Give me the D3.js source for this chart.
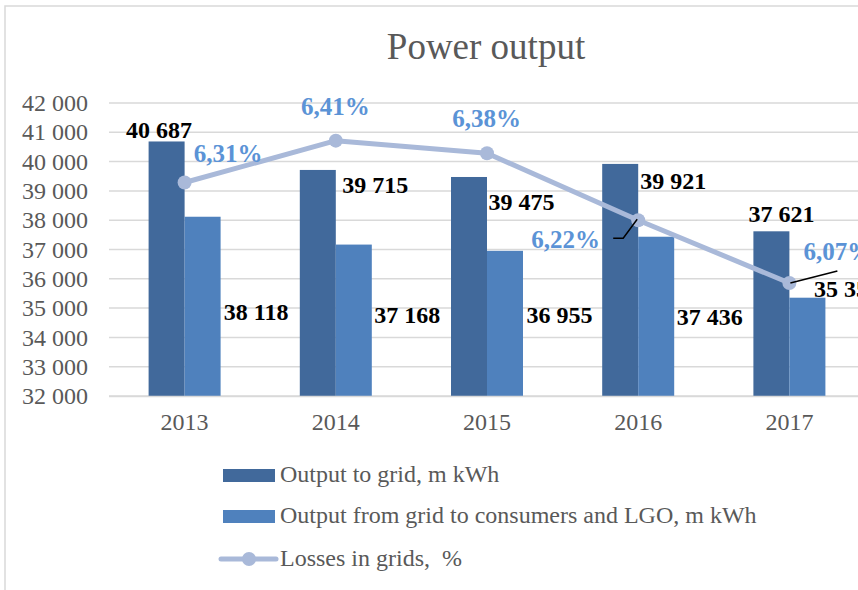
<!DOCTYPE html>
<html lang="en">
<head>
  <meta charset="UTF-8">
  <title>Power output</title>
  <style>
    body { margin: 0; background: white; }
    text { font-family: 'Liberation Serif', 'Times New Roman', serif; }
  </style>
</head>
<body>
  <svg id="svg" width="858" height="590"></svg>
  <script src="https://d3js.org/d3.v7.min.js"></script>
  <script>
    const years = ['2013', '2014', '2015', '2016', '2017']
    const outputToGrid = [40687, 39715, 39475, 39921, 37621]
    const outputFromGrid = [38118, 37168, 36955, 37436, 35355]
    const losses = [6.31, 6.41, 6.38, 6.22, 6.07]
    const yTicks = [32000, 33000, 34000, 35000, 36000, 37000, 38000, 39000, 40000, 41000, 42000]
    const legendNames = ['Output to grid, m kWh', 'Output from grid to consumers and LGO, m kWh', 'Losses in grids,  %']

    // label nudges, as moved by hand in the original
    const darkLabelOff = [[-7.5, -3.5], [57.5, 23], [52.5, 33], [53, 25], [10, -9]]
    const lightLabelOff = [[53.5, 103], [53.5, 78], [54.5, 72], [53.5, 88], [39.5, -1]]
    const pctLabelOff = [[43.5, -20.5], [-0.5, -25.5], [-0.5, -26], [-72.5, 28], [48.5, -22.5]]

    const darkColor = '#41699b'
    const lightColor = '#4f81bd'
    const lineColor = '#a9b9d9'
    const pctColor = '#5b93d6'
    const fmt = v => d3.format(',')(v).replace(/,/g, ' ')
    const fmtPct = v => d3.format('.2f')(v).replace('.', ',') + '%'

    const svg = d3.select('#svg')
    svg.append('rect').attr('width', 858).attr('height', 590).attr('fill', 'white')
    // chart border (runs off the right and bottom)
    svg.append('rect')
      .attr('x', 5).attr('y', 6).attr('width', 1000).attr('height', 700)
      .attr('fill', 'none').attr('stroke', '#d9d9d9').attr('stroke-width', 1.5)

    const xScale = d3.scaleBand().domain(years).range([109, 865])
    const yScale = d3.scaleLinear().domain([32000, 42000]).range([396, 103])
    const y2Scale = d3.scaleLinear().domain([5.8, 6.5]).range([396, 103])
    const barW = 36
    const cx = d => xScale(d) + xScale.bandwidth() / 2

    svg.append('text')
      .attr('x', 486).attr('y', 59)
      .attr('text-anchor', 'middle')
      .attr('fill', '#595959')
      .style('font-size', '37px')
      .text('Power output')

    // gridlines
    svg.append('g')
      .selectAll('line')
      .data(yTicks)
      .enter()
      .append('line')
      .attr('x1', 109).attr('x2', 865)
      .attr('y1', d => yScale(d)).attr('y2', d => yScale(d))
      .attr('stroke', '#d9d9d9').attr('stroke-width', 1.5)

    const leftAxis = d3.axisLeft(yScale).tickValues(yTicks).tickSize(0).tickPadding(21).tickFormat(fmt)
    const gy = svg.append('g').attr('transform', 'translate(109, 0)').call(leftAxis)
    gy.select('.domain').remove()
    gy.selectAll('text').attr('fill', '#595959').style('font-size', '24px').style('font-family', 'Liberation Serif')

    const bottomAxis = d3.axisBottom(xScale).tickSize(0).tickPadding(17)
    const gx = svg.append('g').attr('transform', 'translate(0, 396)').call(bottomAxis)
    gx.select('.domain').remove()
    gx.selectAll('text').attr('fill', '#595959').style('font-size', '24px').style('font-family', 'Liberation Serif')

    // bars
    svg.append('g')
      .selectAll('rect')
      .data(years)
      .enter()
      .append('rect')
      .attr('x', d => cx(d) - barW)
      .attr('y', (d, i) => yScale(outputToGrid[i]))
      .attr('width', barW)
      .attr('height', (d, i) => yScale(32000) - yScale(outputToGrid[i]))
      .attr('fill', darkColor)
    svg.append('g')
      .selectAll('rect')
      .data(years)
      .enter()
      .append('rect')
      .attr('x', d => cx(d))
      .attr('y', (d, i) => yScale(outputFromGrid[i]))
      .attr('width', barW)
      .attr('height', (d, i) => yScale(32000) - yScale(outputFromGrid[i]))
      .attr('fill', lightColor)
    // bottom axis line
    svg.append('line')
      .attr('x1', 109).attr('x2', 865).attr('y1', 396.5).attr('y2', 396.5)
      .attr('stroke', '#d9d9d9').attr('stroke-width', 1.5)

    // losses line
    const line = d3.line().x((d, i) => cx(years[i])).y(d => y2Scale(d))
    svg.append('path')
      .datum(losses)
      .attr('d', line)
      .attr('fill', 'none')
      .attr('stroke', lineColor)
      .attr('stroke-width', 5)
      .attr('stroke-linejoin', 'round')
    svg.append('g')
      .selectAll('circle')
      .data(losses)
      .enter()
      .append('circle')
      .attr('cx', (d, i) => cx(years[i]))
      .attr('cy', d => y2Scale(d))
      .attr('r', 7)
      .attr('fill', lineColor)

    // leader lines
    const p16 = [cx('2016'), y2Scale(losses[3])]
    const p17 = [cx('2017'), y2Scale(losses[4])]
    svg.append('polyline')
      .attr('points', [[p16[0] - 25, p16[1] + 18], [p16[0] - 15, p16[1] + 18], [p16[0] - 1, p16[1] - 1]].join(' '))
      .attr('fill', 'none').attr('stroke', 'black').attr('stroke-width', 1.5)
    svg.append('line')
      .attr('x1', p17[0] + 1).attr('y1', p17[1])
      .attr('x2', p17[0] + 48).attr('y2', p17[1] - 12)
      .attr('stroke', 'black').attr('stroke-width', 1.5)

    // data labels
    svg.append('g')
      .selectAll('text')
      .data(years)
      .enter()
      .append('text')
      .attr('x', (d, i) => cx(d) - barW / 2 + darkLabelOff[i][0])
      .attr('y', (d, i) => yScale(outputToGrid[i]) + darkLabelOff[i][1])
      .attr('text-anchor', 'middle')
      .style('font-size', '24px').style('font-weight', 'bold')
      .text((d, i) => fmt(outputToGrid[i]))
    svg.append('g')
      .selectAll('text')
      .data(years)
      .enter()
      .append('text')
      .attr('x', (d, i) => cx(d) + barW / 2 + lightLabelOff[i][0])
      .attr('y', (d, i) => yScale(outputFromGrid[i]) + lightLabelOff[i][1])
      .attr('text-anchor', 'middle')
      .style('font-size', '24px').style('font-weight', 'bold')
      .text((d, i) => fmt(outputFromGrid[i]))
    svg.append('g')
      .selectAll('text')
      .data(losses)
      .enter()
      .append('text')
      .attr('x', (d, i) => cx(years[i]) + pctLabelOff[i][0])
      .attr('y', d => y2Scale(d))
      .attr('dy', (d, i) => pctLabelOff[i][1])
      .attr('text-anchor', 'middle')
      .attr('fill', pctColor)
      .style('font-size', '25px').style('font-weight', 'bold')
      .text(d => fmtPct(d))

    // legend
    const legend = svg.append('g').attr('transform', 'translate(223, 0)')
    const legendY = [482, 523, 566]
    legend.append('rect').attr('x', 0).attr('y', legendY[0] - 13).attr('width', 52).attr('height', 13).attr('fill', darkColor)
    legend.append('rect').attr('x', 0).attr('y', legendY[1] - 13).attr('width', 52).attr('height', 13).attr('fill', lightColor)
    legend.append('line').attr('x1', -2).attr('x2', 53).attr('y1', 559).attr('y2', 559)
      .attr('stroke', lineColor).attr('stroke-width', 5).attr('stroke-linecap', 'round')
    legend.append('circle').attr('cx', 26).attr('cy', 559).attr('r', 7).attr('fill', lineColor)
    legend.selectAll('text.lg')
      .data(legendNames)
      .enter()
      .append('text')
      .attr('class', 'lg')
      .attr('x', 57)
      .attr('y', (d, i) => legendY[i])
      .attr('fill', '#595959')
      .style('font-size', '24px')
      .style('white-space', 'pre')
      .text(d => d)
  </script>
</body>
</html>
